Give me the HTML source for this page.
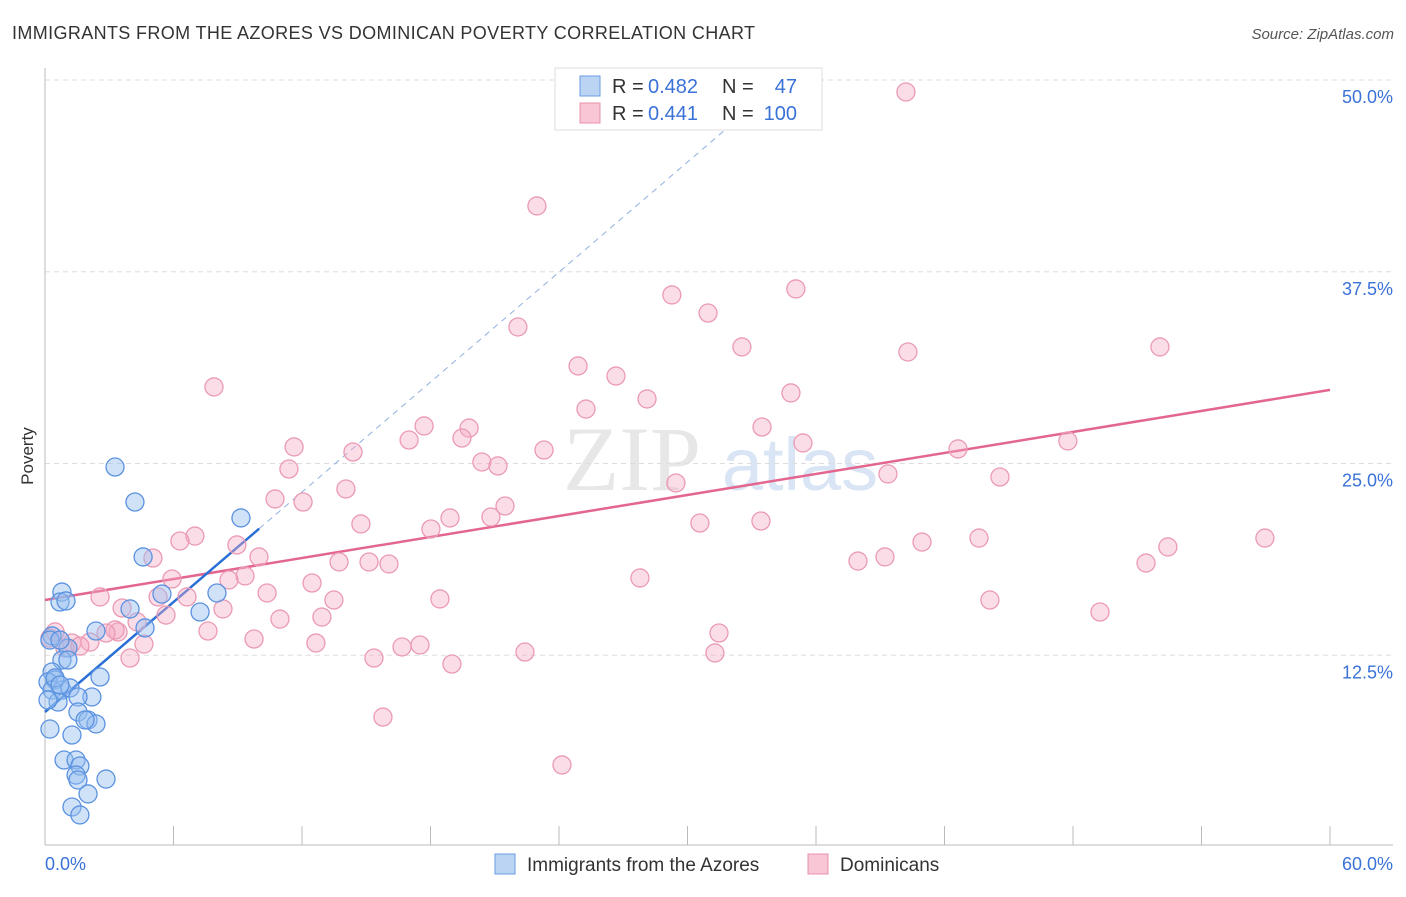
<!DOCTYPE html>
<html><head><meta charset="utf-8"><style>
body{margin:0;background:#fff;font-family:"Liberation Sans",sans-serif;}
</style></head><body>
<svg id="chart" width="1406" height="892" xmlns="http://www.w3.org/2000/svg">
<text x="12" y="39" font-size="18" fill="#333" textLength="743">IMMIGRANTS FROM THE AZORES VS DOMINICAN POVERTY CORRELATION CHART</text>
<text x="1394" y="39" font-size="15" fill="#555" font-style="italic" text-anchor="end">Source: ZipAtlas.com</text>
<text x="33" y="456" font-size="17" fill="#333" text-anchor="middle" transform="rotate(-90 33 456)">Poverty</text>
<g><text x="632" y="490" font-size="92" fill="#ddd" font-family="Liberation Serif,serif" text-anchor="middle" opacity="0.7">ZIP</text><text x="800" y="490" font-size="74" fill="#c9daf0" text-anchor="middle" opacity="0.7">atlas</text></g>
<g id="grid"></g><g id="axes"></g><g id="lines"></g><g id="pts"></g>
<g>
<rect x="555" y="68" width="267" height="62" fill="#fff" stroke="#ddd"/>
<rect x="580" y="76" width="20" height="20" fill="#bcd4f4" stroke="#6a9be0"/>
<rect x="580" y="103" width="20" height="20" fill="#f8c6d5" stroke="#e890ab"/>
<text x="612" y="93" font-size="20" fill="#333">R =</text><text x="648" y="93" font-size="20" fill="#3a72d8">0.482</text>
<text x="722" y="93" font-size="20" fill="#333">N =</text><text x="797" y="93" font-size="20" fill="#3a72d8" text-anchor="end">47</text>
<text x="612" y="120" font-size="20" fill="#333">R =</text><text x="648" y="120" font-size="20" fill="#3a72d8">0.441</text>
<text x="722" y="120" font-size="20" fill="#333">N =</text><text x="797" y="120" font-size="20" fill="#3a72d8" text-anchor="end">100</text>
</g>
<g>
<rect x="495" y="854" width="20" height="20" fill="#bcd4f4" stroke="#6a9be0"/>
<text x="527" y="871" font-size="19" fill="#333">Immigrants from the Azores</text>
<rect x="808" y="854" width="20" height="20" fill="#f8c6d5" stroke="#e890ab"/>
<text x="840" y="871" font-size="19" fill="#333">Dominicans</text>
</g>
</svg>
<script>
const yTicks=[12.5,25,37.5,50];
const yTickLabels=["12.5%","25.0%","37.5%","50.0%"];
const xTickCount=10;
const blueX=[3.27,4.20,9.15,4.58,0.79,0.70,0.98,5.46,8.03,3.97,7.24,4.67,2.38,0.33,1.07,0.79,1.07,2.57,0.33,0.47,0.14,0.33,0.79,1.17,0.61,2.19,1.54,1.54,2.01,2.38,0.23,1.26,0.89,1.45,1.63,1.45,1.54,2.85,2.01,1.26,1.63,0.47,0.14,0.70,1.87,0.23,0.70];
const blueY=[24.77,22.49,21.45,18.91,16.62,15.97,16.04,16.49,16.56,15.52,15.32,14.28,14.08,13.76,12.97,12.19,12.19,11.08,11.41,10.89,10.76,10.23,10.23,10.37,9.45,9.78,9.78,8.80,8.28,8.02,7.69,7.30,5.67,5.67,5.28,4.69,4.37,4.43,3.46,2.61,2.09,11.02,9.58,10.56,8.28,13.49,13.49];
const pinkX=[40.20,22.97,29.27,35.06,30.96,22.08,32.54,40.29,52.06,24.89,26.66,7.89,25.26,28.11,34.83,33.48,17.70,19.80,17.00,19.47,35.39,11.63,14.38,23.30,42.63,47.76,20.40,21.15,11.39,29.46,39.36,44.59,14.05,10.74,12.05,21.48,18.91,20.82,14.75,18.02,30.58,33.43,7.00,6.30,8.96,40.95,43.61,56.96,52.43,5.04,9.99,13.73,15.13,16.06,37.96,39.22,51.41,5.93,9.34,8.59,27.78,12.47,2.57,5.28,6.63,10.37,13.49,18.44,44.12,3.60,8.31,5.65,10.97,12.93,49.26,4.30,3.41,7.61,3.27,2.85,31.47,4.62,9.76,12.65,2.10,1.26,0.70,0.23,0.47,16.67,17.51,31.28,22.41,3.97,15.36,19.00,15.78,24.14,0.93,1.63];
const pinkY=[49.22,41.79,35.99,36.38,34.81,33.90,32.60,32.27,32.60,31.36,30.70,29.99,28.55,29.21,29.60,27.38,27.45,27.31,26.53,26.66,26.34,26.08,25.75,25.88,25.95,26.47,25.10,24.84,24.64,23.73,24.32,24.12,23.34,22.69,22.49,22.23,21.45,21.51,21.06,20.73,21.12,21.25,20.27,19.95,19.69,19.88,20.14,20.14,19.56,18.84,18.91,18.58,18.58,18.45,18.64,18.91,18.51,17.47,17.67,17.41,17.54,17.21,16.30,16.30,16.30,16.56,16.10,16.17,16.10,15.58,15.52,15.12,14.86,14.99,15.32,14.67,14.02,14.08,14.15,13.95,13.95,13.23,13.56,13.30,13.36,13.30,13.49,13.62,14.02,13.04,13.17,12.65,12.71,12.32,12.32,11.93,8.47,5.35,12.97,13.10];
const blueTrend=[8.8,1.195];
const pinkTrend=[16.1,0.2283];
const NS="http://www.w3.org/2000/svg";
const X=v=>45+v/60*1285, Y=v=>847-v/50*767;
function mk(tag,attrs,parent){const e=document.createElementNS(NS,tag);for(const k in attrs)e.setAttribute(k,attrs[k]);document.getElementById(parent).appendChild(e);return e;}
yTicks.forEach((t,i)=>{
 const g=mk('line',{x1:45,x2:1393,y1:Y(t),y2:Y(t),stroke:'#ddd','stroke-dasharray':'5,4'},'grid');
 
 
 const l=mk('text',{x:1393,y:Y(t)+23,'font-size':18,fill:'#3a72d8','text-anchor':'end'},'grid');l.textContent=yTickLabels[i];
 
 
});
const ax=mk('line',{x1:45,x2:45,y1:68,y2:845,stroke:'#bbb'},'axes');


const bx=mk('line',{x1:45,x2:1393,y1:845,y2:845,stroke:'#bbb'},'axes');


for(let i=0;i<=xTickCount;i++){const t=mk('line',{x1:X(i*6),x2:X(i*6),y1:826,y2:845,stroke:'#bbb'},'axes');
 
 }
const x0=mk('text',{x:45,y:870,'font-size':18,fill:'#3a72d8'},'axes');x0.textContent='0.0%';


const x1=mk('text',{x:1393,y:870,'font-size':18,fill:'#3a72d8','text-anchor':'end'},'axes');x1.textContent='60.0%';


pinkX.forEach((v,i)=>{const c=mk('circle',{cx:X(v),cy:Y(pinkY[i]),r:9,fill:'rgba(244,170,195,0.4)',stroke:'#eb9ab4','stroke-width':1.3},'pts');
 
 });
blueX.forEach((v,i)=>{const c=mk('circle',{cx:X(v),cy:Y(blueY[i]),r:9,fill:'rgba(150,190,240,0.45)',stroke:'#5b92e0','stroke-width':1.3},'pts');
 
 });
const pl=mk('line',{x1:X(0),y1:Y(pinkTrend[0]),x2:X(60),y2:Y(pinkTrend[0]+pinkTrend[1]*60),stroke:'#e3668f','stroke-width':2.5},'lines');


const bd=mk('line',{x1:X(10),y1:Y(blueTrend[0]+blueTrend[1]*10),x2:X(33),y2:Y(blueTrend[0]+blueTrend[1]*33),stroke:'#8fb0e0','stroke-width':1,'stroke-dasharray':'6,5'},'lines');


const bl=mk('line',{x1:X(0),y1:Y(blueTrend[0]),x2:X(10),y2:Y(blueTrend[0]+blueTrend[1]*10),stroke:'#2a6fd6','stroke-width':2.5},'lines');


</script>
</body></html>
